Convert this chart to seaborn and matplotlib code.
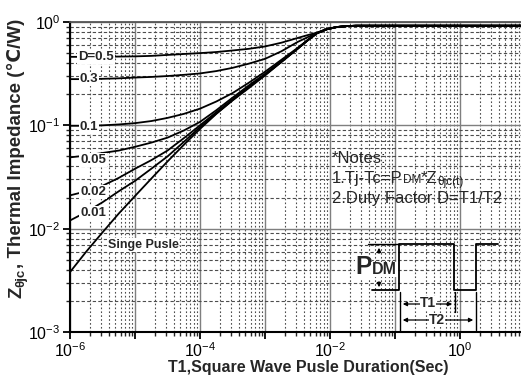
import numpy as np
import pandas as pd
import matplotlib
matplotlib.use("Agg")
import matplotlib.pyplot as plt
import seaborn as sns
from matplotlib.ticker import LogLocator, FuncFormatter, NullFormatter

# Pulse widths (s) and transient thermal impedance Zthjc (C/W) per duty factor
pulse_width = [1e-6, 1.78e-6, 3.16e-6, 5.62e-6, 1e-5, 1.78e-5, 3.16e-5, 5.62e-5,
               1e-4, 1.78e-4, 3.16e-4, 5.62e-4, 1e-3, 1.78e-3, 3.16e-3, 4.47e-3,
               6.31e-3, 8.91e-3, 1.26e-2, 1.78e-2, 2.51e-2, 3.98e-2, 1e-1, 1.0, 8.7]

z_d050 = [0.46, 0.46, 0.461, 0.463, 0.465, 0.47, 0.48, 0.49, 0.50, 0.512, 0.53, 0.55,
          0.58, 0.63, 0.70, 0.745, 0.79, 0.855, 0.893, 0.912, 0.92, 0.92, 0.92, 0.92, 0.92]
z_d030 = [0.28, 0.28, 0.282, 0.285, 0.29, 0.294, 0.30, 0.308, 0.318, 0.335, 0.36, 0.395,
          0.44, 0.52, 0.64, 0.71, 0.785, 0.852, 0.893, 0.912, 0.92, 0.92, 0.92, 0.92, 0.92]
z_d010 = [0.099, 0.099, 0.100, 0.102, 0.105, 0.11, 0.118, 0.129, 0.145, 0.17, 0.205, 0.258,
          0.33, 0.43, 0.56, 0.665, 0.78, 0.85, 0.893, 0.912, 0.92, 0.92, 0.92, 0.92, 0.92]
z_d005 = [0.049, 0.051, 0.054, 0.057, 0.062, 0.068, 0.076, 0.089, 0.108, 0.14, 0.185, 0.243,
          0.315, 0.415, 0.553, 0.662, 0.78, 0.85, 0.893, 0.912, 0.92, 0.92, 0.92, 0.92, 0.92]
z_d002 = [0.021, 0.023, 0.026, 0.031, 0.038, 0.046, 0.057, 0.075, 0.100, 0.134, 0.178, 0.236,
          0.31, 0.412, 0.55, 0.66, 0.78, 0.85, 0.893, 0.912, 0.92, 0.92, 0.92, 0.92, 0.92]
z_d001 = [0.012, 0.0145, 0.018, 0.023, 0.029, 0.038, 0.050, 0.069, 0.096, 0.13, 0.175, 0.233,
          0.307, 0.41, 0.55, 0.66, 0.78, 0.85, 0.893, 0.912, 0.92, 0.92, 0.92, 0.92, 0.92]
z_single = [0.0038, 0.0060, 0.0092, 0.0140, 0.0207, 0.0305, 0.0447, 0.0646, 0.0923, 0.129, 0.174, 0.229,
            0.304, 0.41, 0.55, 0.66, 0.78, 0.85, 0.893, 0.912, 0.92, 0.92, 0.92, 0.92, 0.92]

series_names = ["D=0.5", "0.3", "0.1", "0.05", "0.02", "0.01", "Single"]
series_values = [z_d050, z_d030, z_d010, z_d005, z_d002, z_d001, z_single]

frames = [pd.DataFrame({"t": pulse_width, "z": vals, "series": name})
          for name, vals in zip(series_names, series_values)]
df = pd.concat(frames, ignore_index=True)

sns.set_style("white")
plt.rcParams["font.family"] = ["Liberation Sans", "DejaVu Sans"]
plt.rcParams["mathtext.fontset"] = "custom"
plt.rcParams["mathtext.rm"] = "Liberation Sans"
plt.rcParams["mathtext.bf"] = "Liberation Sans:bold"
plt.rcParams["mathtext.it"] = "Liberation Sans:italic"

W, H = 521, 381
fig = plt.figure(figsize=(W / 100, H / 100), dpi=100)
AX_L, AX_R, AX_T, AX_B = 70, 521, 22, 332
ax = fig.add_axes([AX_L / W, 1 - AX_B / H, (AX_R - AX_L) / W, (AX_B - AX_T) / H])
ax.set_xscale("log")
ax.set_yscale("log")

sns.lineplot(data=df, x="t", y="z", hue="series", hue_order=series_names,
             palette=["black"] * len(series_names), estimator=None,
             legend=False, linewidth=1.3, ax=ax, zorder=3)

ax.set_xlim(1e-6, 8.67)
ax.set_ylim(1e-3, 1.0)

# ticks and grid
ax.xaxis.set_major_locator(LogLocator(base=10, numticks=20))
ax.xaxis.set_minor_locator(LogLocator(base=10, subs=np.arange(2, 10), numticks=20))
ax.yaxis.set_major_locator(LogLocator(base=10, numticks=20))
ax.yaxis.set_minor_locator(LogLocator(base=10, subs=np.arange(2, 10), numticks=20))


def even_decade(v, pos):
    e = int(round(np.log10(v)))
    return f"$10^{{{e}}}$" if e % 2 == 0 else ""


def decade(v, pos):
    e = int(round(np.log10(v)))
    return f"$10^{{{e}}}$"


ax.xaxis.set_major_formatter(FuncFormatter(even_decade))
ax.yaxis.set_major_formatter(FuncFormatter(decade))
ax.xaxis.set_minor_formatter(NullFormatter())
ax.yaxis.set_minor_formatter(NullFormatter())

ax.tick_params(which="major", direction="out", length=5, width=1.3,
               labelsize=11.5, pad=2, colors="black", left=True, bottom=True)
ax.tick_params(which="minor", direction="out", length=3, width=1.0,
               left=True, bottom=True)

ax.grid(which="major", color="#7f7f7f", linewidth=1.0, linestyle="-", zorder=1)
ax.xaxis.grid(which="minor", color="#4d4d4d", linewidth=0.8,
              linestyle=(0, (1.5, 2)), zorder=1)
ax.yaxis.grid(which="minor", color="#4d4d4d", linewidth=0.8,
              linestyle=(0, (3, 2)), zorder=1)
ax.set_axisbelow(True)

for side in ["left", "bottom"]:
    ax.spines[side].set_color("black")
    ax.spines[side].set_linewidth(1.5)
ax.spines["top"].set_color("#555555")
ax.spines["top"].set_linewidth(1.3)
ax.spines["right"].set_visible(False)

ax.set_xlabel("T1,Square Wave Pusle Duration(Sec)", fontsize=11.5,
              fontweight="bold")
ax.xaxis.set_label_coords((308 - AX_L) / (AX_R - AX_L), (AX_B - 360) / (AX_B - AX_T))
ax.set_ylabel("")


def P(x, y):
    """Pixel position -> axes fraction."""
    return ((x - AX_L) / (AX_R - AX_L), (AX_B - y) / (AX_B - AX_T))


white = dict(facecolor="white", edgecolor="none", pad=0.6)

# curve labels
curve_labels = [("D=0.5", 96, 57), ("0.3", 89, 79), ("0.1", 89, 127),
                ("0.05", 93, 160), ("0.02", 93, 192), ("0.01", 93, 213)]
for txt, px, py in curve_labels:
    ax.text(*P(px, py), txt, transform=ax.transAxes, ha="center", va="center",
            fontsize=9.5, fontweight="bold", bbox=white, zorder=5)
ax.text(*P(143, 245), "Singe Pusle", transform=ax.transAxes, ha="center",
        va="center", fontsize=9, fontweight="bold", bbox=white, zorder=5)

renderer = fig.canvas.get_renderer()


def run_text(x, y, parts, zorder=6, bbox=None):
    """Draw text pieces one after another along a baseline (pixel coords)."""
    for txt, size, weight, dy in parts:
        t = fig.text(x / W, 1 - (y + dy) / H, txt, fontsize=size,
                     fontweight=weight, ha="left", va="baseline",
                     zorder=zorder, bbox=bbox)
        x += t.get_window_extent(renderer).width
    return x


def run_text_vertical(x, y, parts):
    """Same as run_text, rotated 90 degrees and reading bottom to top."""
    for txt, size, weight, dx in parts:
        t = fig.text((x + dx) / W, 1 - y / H, txt, fontsize=size,
                     fontweight=weight, ha="left", va="baseline",
                     rotation=90, rotation_mode="anchor")
        y -= t.get_window_extent(renderer).height
    return y


# y-axis title
run_text_vertical(21, 298, [("Z", 13.5, "bold", 0), ("θjc", 9.5, "bold", 3),
                            (", Thermal Impedance (℃/W)", 13.5, "bold", 0)])

# notes
run_text(332, 163, [("*Notes:", 12, "normal", 0)])
run_text(332, 183, [("1.Tj-Tc=P", 12, "normal", 0), ("DM", 8.5, "normal", 0),
                    ("*Z", 12, "normal", 0), ("θjc(t)", 8.5, "normal", 2)])
run_text(332, 203, [("2.Duty Factor D=T1/T2", 12, "normal", 0)])

# square-wave schematic
lw = 1.3
wave_x = [372, 399, 399, 454, 454, 476, 476, 498]
wave_y = [290, 290, 244, 244, 290, 290, 244, 244]
pts = [P(x, y) for x, y in zip(wave_x, wave_y)]
ax.plot([p[0] for p in pts], [p[1] for p in pts], color="black", lw=lw,
        transform=ax.transAxes, zorder=6, clip_on=False)
for (x0, y0, x1, y1) in [(368, 244, 399, 244), (400, 292, 400, 332),
                         (455, 292, 455, 312), (476, 292, 476, 330)]:
    a, b = P(x0, y0), P(x1, y1)
    ax.plot([a[0], b[0]], [a[1], b[1]], color="black", lw=1.0,
            transform=ax.transAxes, zorder=6)

pbox = dict(facecolor="white", edgecolor="none", pad=0.2)
run_text(355, 274, [("P", 18, "bold", 0), ("DM", 11.5, "bold", 0)], zorder=7, bbox=pbox)

arrow = dict(arrowstyle="-|>", color="black", lw=0.9, mutation_scale=6)
ax.annotate("", xy=P(379, 245), xytext=P(379, 256), xycoords="axes fraction",
            textcoords="axes fraction", arrowprops=arrow, zorder=8)
ax.annotate("", xy=P(379, 290), xytext=P(379, 279), xycoords="axes fraction",
            textcoords="axes fraction", arrowprops=arrow, zorder=8)

both = dict(arrowstyle="<|-|>", color="black", lw=0.9, mutation_scale=6)
ax.annotate("", xy=P(400, 304), xytext=P(455, 304), xycoords="axes fraction",
            textcoords="axes fraction", arrowprops=both, zorder=7)
ax.annotate("", xy=P(400, 320), xytext=P(476, 320), xycoords="axes fraction",
            textcoords="axes fraction", arrowprops=both, zorder=7)
ax.text(*P(428, 303), "T1", transform=ax.transAxes, ha="center", va="center",
        fontsize=10, fontweight="bold", zorder=8,
        bbox=dict(facecolor="white", edgecolor="none", pad=0.3))
ax.text(*P(437, 320), "T2", transform=ax.transAxes, ha="center", va="center",
        fontsize=10, fontweight="bold", zorder=8,
        bbox=dict(facecolor="white", edgecolor="none", pad=0.3))

fig.savefig("out.png", dpi=100)
